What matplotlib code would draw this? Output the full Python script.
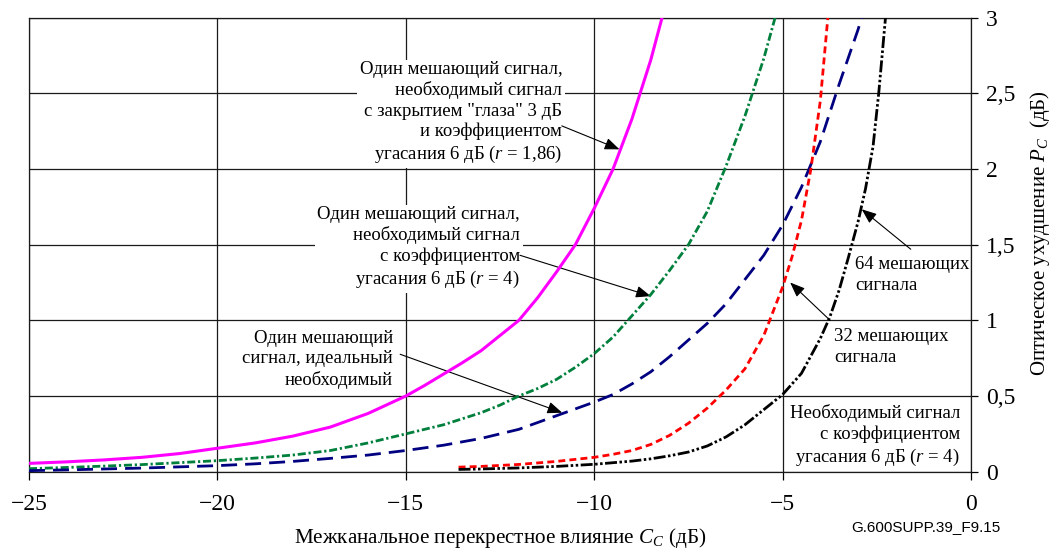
import matplotlib
matplotlib.use("Agg")
import matplotlib.pyplot as plt

plt.rcParams["font.family"] = ["Liberation Serif", "DejaVu Serif"]
plt.rcParams["mathtext.fontset"] = "custom"
plt.rcParams["mathtext.rm"] = "Liberation Serif"
plt.rcParams["mathtext.it"] = "Liberation Serif:italic"
plt.rcParams["lines.scale_dashes"] = False

# --- данные (x: Cc, дБ; y: Pc, дБ) ---
magenta_x = [-25, -24, -23, -22, -21, -20, -19, -18, -17, -16, -15, -14.5, -14,
             -13.5, -13, -12.5, -12, -11.5, -11, -10.5, -10, -9.5, -9, -8.5, -8.2]
magenta_y = [0.055, 0.065, 0.078, 0.095, 0.12, 0.155, 0.19, 0.235, 0.295, 0.385,
             0.5, 0.57, 0.645, 0.72, 0.8, 0.9, 1.0, 1.15, 1.32, 1.5, 1.74, 2.0,
             2.33, 2.72, 3.0]

green_x = [-25, -24, -23, -22, -21, -20, -19, -18, -17, -16, -15, -14, -13, -12.5,
           -12, -11.5, -11, -10.5, -10, -9.5, -9, -8.5, -8, -7.5, -7, -6.5, -6,
           -5.5, -5.2]
green_y = [0.02, 0.028, 0.037, 0.047, 0.06, 0.073, 0.09, 0.11, 0.14, 0.19, 0.25,
           0.31, 0.39, 0.44, 0.5, 0.55, 0.61, 0.69, 0.78, 0.89, 1.03, 1.17, 1.33,
           1.5, 1.72, 2.02, 2.35, 2.73, 3.0]

navy_x = [-25, -24, -23, -22, -21, -20, -19, -18, -17, -16, -15, -14, -13, -12,
          -11, -10, -9.5, -9, -8.5, -8, -7.5, -7, -6.5, -6, -5.5, -5, -4.5, -4,
          -3.5, -3, -2.9]
navy_y = [0.007, 0.012, 0.018, 0.024, 0.032, 0.04, 0.052, 0.068, 0.088, 0.11,
          0.14, 0.175, 0.22, 0.28, 0.37, 0.46, 0.51, 0.58, 0.66, 0.76, 0.87, 0.98,
          1.11, 1.27, 1.43, 1.63, 1.88, 2.18, 2.56, 2.92, 3.0]

red_x = [-13.6, -13, -12, -11, -10, -9.5, -9, -8.5, -8, -7.5, -7, -6.5, -6, -5.5,
         -5, -4.75, -4.5, -4.25, -4, -3.8]
red_y = [0.03, 0.035, 0.048, 0.068, 0.095, 0.115, 0.14, 0.18, 0.24, 0.32, 0.42,
         0.54, 0.68, 0.9, 1.22, 1.42, 1.66, 2.0, 2.45, 3.0]

black_x = [-13.6, -13, -12, -11, -10, -9, -8.5, -8, -7.5, -7, -6.5, -6, -5.5, -5,
           -4.5, -4, -3.75, -3.5, -3.25, -3, -2.8, -2.6, -2.45, -2.27]
black_y = [0.015, 0.018, 0.025, 0.035, 0.049, 0.07, 0.085, 0.105, 0.13, 0.17,
           0.23, 0.31, 0.41, 0.51, 0.65, 0.88, 1.02, 1.2, 1.42, 1.65, 1.87, 2.15,
           2.5, 3.0]

x_ticks = [-25, -20, -15, -10, -5, 0]
x_labels = ["\u221225", "\u221220", "\u221215", "\u221210", "\u22125", "0"]
y_ticks = [0, 0.5, 1, 1.5, 2, 2.5, 3]
y_labels = ["0", "0,5", "1", "1,5", "2", "2,5", "3"]

fig = plt.figure(figsize=(10.58, 5.49), dpi=100)
ax = fig.add_axes([0.0274, 0.1408, 0.8904, 0.827])

ax.plot(magenta_x, magenta_y, color="#FF00FF", lw=2.2, zorder=3)
ax.plot(green_x, green_y, color="#00803C", lw=2.0, dashes=[5.8, 2, 1.6, 2], zorder=3)
ax.plot(navy_x, navy_y, color="#000080", lw=2.0, dashes=[11.5, 5.8], zorder=3)
ax.plot(red_x, red_y, color="#FF0000", lw=2.0, dashes=[5, 3], zorder=3)
ax.plot(black_x, black_y, color="black", lw=2.0,
        dashes=[8.6, 1.8, 1.8, 1.8, 1.8, 1.8], zorder=3)

ax.set_xlim(-25, 0)
ax.set_ylim(0, 3)
ax.set_xticks(x_ticks)
ax.set_xticklabels(x_labels)
ax.set_yticks(y_ticks)
ax.set_yticklabels(y_labels)
ax.yaxis.tick_right()
ax.tick_params(axis="x", direction="out", length=5.8, width=0.9, labelsize=17, pad=10)
ax.tick_params(axis="y", direction="out", length=5, width=0.9, labelsize=17, pad=6)
ax.grid(True, color="#1a1a1a", lw=0.9)
ax.set_axisbelow(True)
for s in ax.spines.values():
    s.set_color("#1a1a1a")
    s.set_linewidth(0.9)

ax.set_xlabel("Межканальное перекрестное влияние $C_C$ (дБ)", fontsize=15.2)
ax.xaxis.set_label_coords(0.5, -0.146)
ax.xaxis.label.set_va("center")
ax.yaxis.set_label_position("right")
ax.set_ylabel("Оптическое ухудшение $P_C$  (дБ)", fontsize=15)
ax.yaxis.set_label_coords(1.073, 0.526)
ax.yaxis.label.set_va("center")

box = dict(boxstyle="square,pad=0.15", fc="white", ec="none")
fs = 13.5
ax.text(-10.85, 2.37, "Один мешающий сигнал,\nнеобходимый сигнал\n"
        "с закрытием \"глаза\" 3 дБ\nи коэффициентом\nугасания 6 дБ ($r$ = 1,86)",
        ha="right", va="center", multialignment="right", fontsize=fs,
        linespacing=1.25, bbox=box, zorder=1.5)
ax.text(-11.97, 1.48, "Один мешающий сигнал,\nнеобходимый сигнал\n"
        "с коэффициентом\nугасания 6 дБ ($r$ = 4)",
        ha="right", va="center", multialignment="right", fontsize=fs,
        linespacing=1.25, bbox=box, zorder=1.5)
ax.text(-15.34, 0.742, "Один мешающий\nсигнал, идеальный\nнеобходимый",
        ha="right", va="center", multialignment="right", fontsize=fs,
        linespacing=1.25, zorder=1.5)
ax.text(-3.08, 1.30, "64 мешающих\nсигнала", ha="left", va="center",
        fontsize=fs, linespacing=1.25, zorder=1.5)
ax.text(-3.64, 0.824, "32 мешающих\nсигнала", ha="left", va="center",
        fontsize=fs, linespacing=1.25, zorder=1.5)
ax.text(-0.29, 0.236, "Необходимый сигнал\nс коэффициентом\nугасания 6 дБ ($r$ = 4)",
        ha="right", va="center", multialignment="right", fontsize=fs,
        linespacing=1.25, zorder=1.5)

arrow = dict(arrowstyle="-|>,head_length=0.5,head_width=0.2", color="black",
             lw=0.8, shrinkA=0, shrinkB=0, mutation_scale=18)
arrows = [((-10.86, 2.285), (-9.33, 2.13)),
          ((-11.97, 1.43), (-8.5, 1.16)),
          ((-15.15, 0.776), (-10.85, 0.39)),
          ((-1.6, 1.47), (-2.9, 1.734)),
          ((-3.74, 1.0), (-4.8, 1.25))]
for tail, head in arrows:
    ax.annotate("", xy=head, xytext=tail, arrowprops=arrow, zorder=2.5)

fig.text(851.7 / 1058, 1 - 526.7 / 549, "G.600SUPP.39_F9.15", ha="left",
         va="center", fontsize=11, family="Liberation Sans")

fig.savefig("out.png", dpi=100)
